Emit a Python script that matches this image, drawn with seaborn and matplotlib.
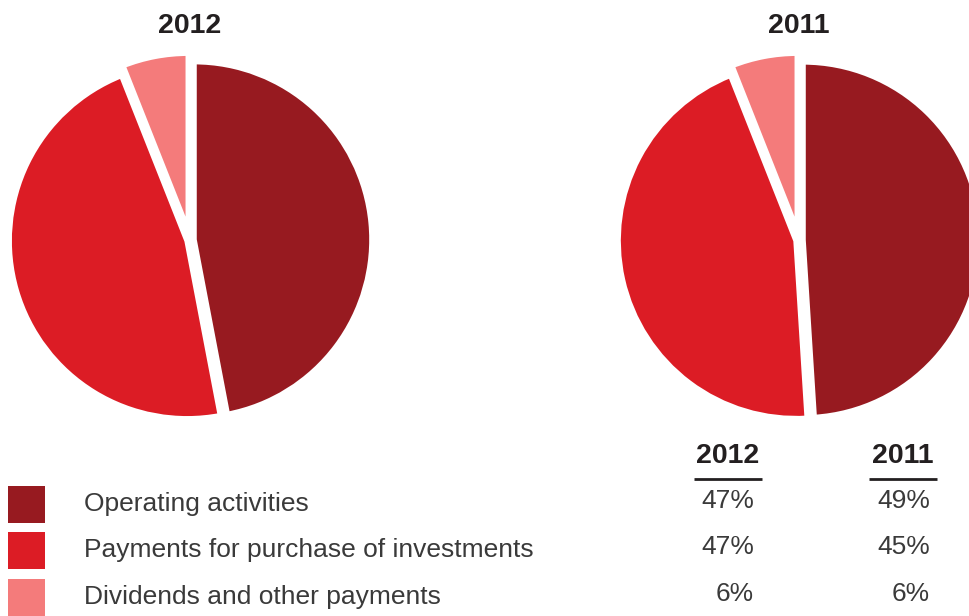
import matplotlib
matplotlib.use("Agg")
import matplotlib.pyplot as plt
import seaborn as sns

# Cash outflow breakdown
categories = ["Operating activities",
              "Payments for purchase of investments",
              "Dividends and other payments"]
years = ["2012", "2011"]
share_2012 = [47, 47, 6]
share_2011 = [49, 45, 6]
colors = ["#971a20", "#dc1c25", "#f47b7b"]

sns.set_theme(style="white")
plt.rcParams["font.family"] = ["Liberation Sans", "DejaVu Sans"]

W, H = 970, 616
fig = plt.figure(figsize=(W / 100, H / 100), dpi=100)
ax = fig.add_axes([0, 0, 1, 1])
ax.set_xlim(0, W)
ax.set_ylim(0, H)
ax.set_aspect("equal")
ax.axis("off")


def Y(y):
    return H - y


# explode offsets are in data units (pixels here)
explode = [4, 3, 9]
for values, cx, title in [(share_2012, 190, years[0]), (share_2011, 799, years[1])]:
    ax.pie(values, colors=colors, startangle=90, counterclock=False,
           center=(cx, Y(240)), radius=178, explode=explode,
           wedgeprops=dict(edgecolor="white", linewidth=4))
    ax.text(cx, Y(26), title, ha="center", va="center",
            fontsize=20.5, fontweight="bold", color="#231f20")

# restore full-figure limits after pie() adjusts them
ax.set_xlim(0, W)
ax.set_ylim(0, H)

# legend swatches and labels
row_y = [505, 551, 598]
for c, label, y in zip(colors, categories, row_y):
    ax.add_patch(plt.Rectangle((8, Y(y + 18)), 37, 37, color=c, lw=0))
    ax.text(84, Y(y - 1), label, ha="left", va="center",
            fontsize=19, color="#3a3a3a")

# percentage table
col_right = [754, 930]
col_center = [728, 903]
for yr, vals, xr, xc in zip(years, [share_2012, share_2011], col_right, col_center):
    ax.text(xc, Y(456), yr, ha="center", va="center",
            fontsize=20.5, fontweight="bold", color="#231f20")
    ax.plot([xc - 34, xc + 34], [Y(479), Y(479)], color="#231f20", lw=2,
            solid_capstyle="butt")
    for v, y in zip(vals, row_y):
        ax.text(xr, Y(y - 4), f"{v}%", ha="right", va="center",
                fontsize=19, color="#3a3a3a")

fig.savefig("out.png", dpi=100)
